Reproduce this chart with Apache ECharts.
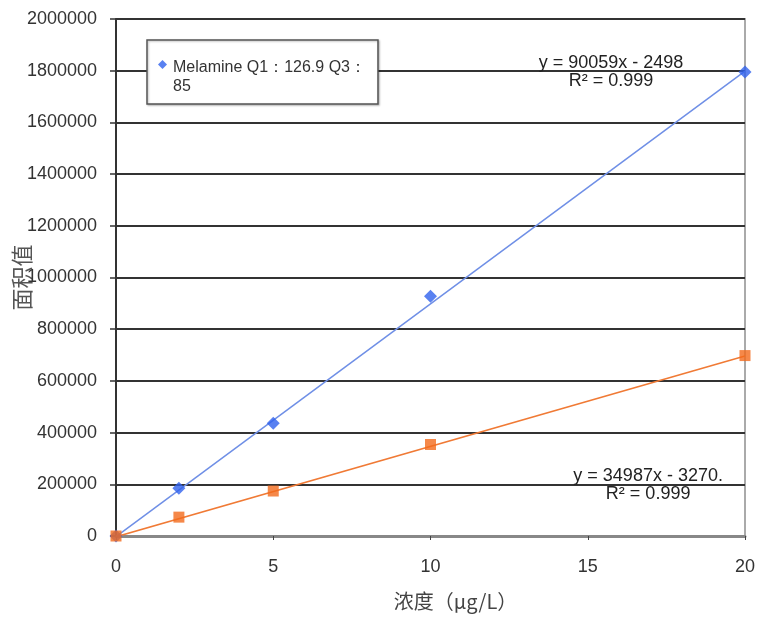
<!DOCTYPE html>
<html><head><meta charset="utf-8">
<script src="https://cdn.jsdelivr.net/npm/echarts@6/dist/echarts.min.js"></script>
<style>html,body{margin:0;padding:0;background:#fff}#c{width:759px;height:618px}</style>
</head><body><div id="c"></div>
<script>
const concX = [0, 2, 5, 10, 20];
const melamineQ1 = [0, 185000, 436000, 927000, 1795000];
const melamineQ3 = [0, 73000, 174000, 354000, 698000];
const trendQ1 = [[0, -2498], [20, 1798682]];
const trendQ3 = [[0, -3270], [20, 696470]];
const eqQ1 = ['y = 90059x - 2498', 'R² = 0.999'];
const eqQ3 = ['y = 34987x - 3270.', 'R² = 0.999'];
const legendName = 'Melamine Q1：126.9 Q3：\n85';
const xTitle = '浓度（μg/L）';
const yTitle = '面积值';

const chart = echarts.init(document.getElementById('c'));
const font = 'Liberation Sans, Arial, sans-serif';
chart.setOption({
  animation: false,
  backgroundColor: '#fff',
  grid: {left: 116, right: 14, top: 19, bottom: 82, outerBoundsMode: 'none', containLabel: false,
         show: true, borderColor: '#aaa', borderWidth: 2},
  legend: {
    data: [legendName], left: 147, top: 40, orient: 'vertical',
    backgroundColor: '#fff', borderColor: '#555', borderWidth: 1.5,
    padding: [18, 12, 8, 11], itemWidth: 9, itemHeight: 38, itemGap: 4,
    icon: 'path://M0,0L0,0M9,38L9,38M4.5,2L9,6.5L4.5,11L0,6.5Z',
    shadowColor: 'rgba(0,0,0,0.25)', shadowBlur: 2, shadowOffsetX: 1, shadowOffsetY: 1,
    textStyle: {fontFamily: font, fontSize: 16, color: '#333', lineHeight: 19, padding: [0, 0, 0, 1]}
  },
  xAxis: {
    type: 'value', min: 0, max: 20, interval: 5,
    name: xTitle, nameLocation: 'middle', nameGap: 55, nameMoveOverlap: false,
    nameTextStyle: {fontFamily: 'Noto Sans CJK SC', fontSize: 20, color: '#444', padding: [0, 0, 0, 50]},
    axisLine: {lineStyle: {color: '#888', width: 3}},
    axisTick: {show: true, length: 4, lineStyle: {color: '#444'}},
    axisLabel: {fontFamily: font, fontSize: 18, color: '#333', margin: 22},
    splitLine: {show: false}
  },
  yAxis: {
    type: 'value', min: 0, max: 2000000, interval: 200000,
    name: yTitle, nameLocation: 'middle', nameGap: 83, nameMoveOverlap: false,
    nameTextStyle: {fontFamily: 'Noto Sans CJK SC', fontSize: 22, color: '#555'},
    axisLine: {show: true, lineStyle: {color: '#333', width: 2}},
    axisTick: {show: true, length: 6, lineStyle: {color: '#333', width: 1.5}},
    axisLabel: {fontFamily: font, fontSize: 18, color: '#333', margin: 19, formatter: v => String(v)},
    splitLine: {lineStyle: {color: '#333', width: 2}}
  },
  series: [
    {name: 'trendQ1', type: 'line', data: trendQ1, symbol: 'none', silent: true,
     lineStyle: {color: '#6f8fe6', width: 1.5}, z: 2},
    {name: 'trendQ3', type: 'line', data: trendQ3, symbol: 'none', silent: true,
     lineStyle: {color: '#f07a35', width: 1.5}, z: 2},
    {name: legendName, type: 'scatter', data: concX.map((x, i) => [x, melamineQ1[i]]),
     symbol: 'diamond', symbolSize: 13, itemStyle: {color: '#2f62ee'}, z: 4},
    {name: 'Q3', type: 'scatter', data: concX.map((x, i) => [x, melamineQ3[i]]),
     symbol: 'rect', symbolSize: 11, itemStyle: {color: '#f26a1b'}, z: 5}
  ]
});

function eqText(lines, xv, yv) {
  const p = chart.convertToPixel({gridIndex: 0}, [xv, yv]);
  return [
    {type: 'text', x: p[0], y: p[1] + 1, style: {text: lines[0], font: '18px ' + font, fill: '#222', align: 'center', verticalAlign: 'bottom'}, z: 10},
    {type: 'text', x: p[0], y: p[1] + 1, style: {text: lines[1], font: '18px ' + font, fill: '#222', align: 'center', verticalAlign: 'top'}, z: 10}
  ];
}
chart.setOption({graphic: [
  ...eqText(eqQ1, 15.74, 1800000),
  ...eqText(eqQ3, 16.92, 200000)
]});
</script></body></html>
